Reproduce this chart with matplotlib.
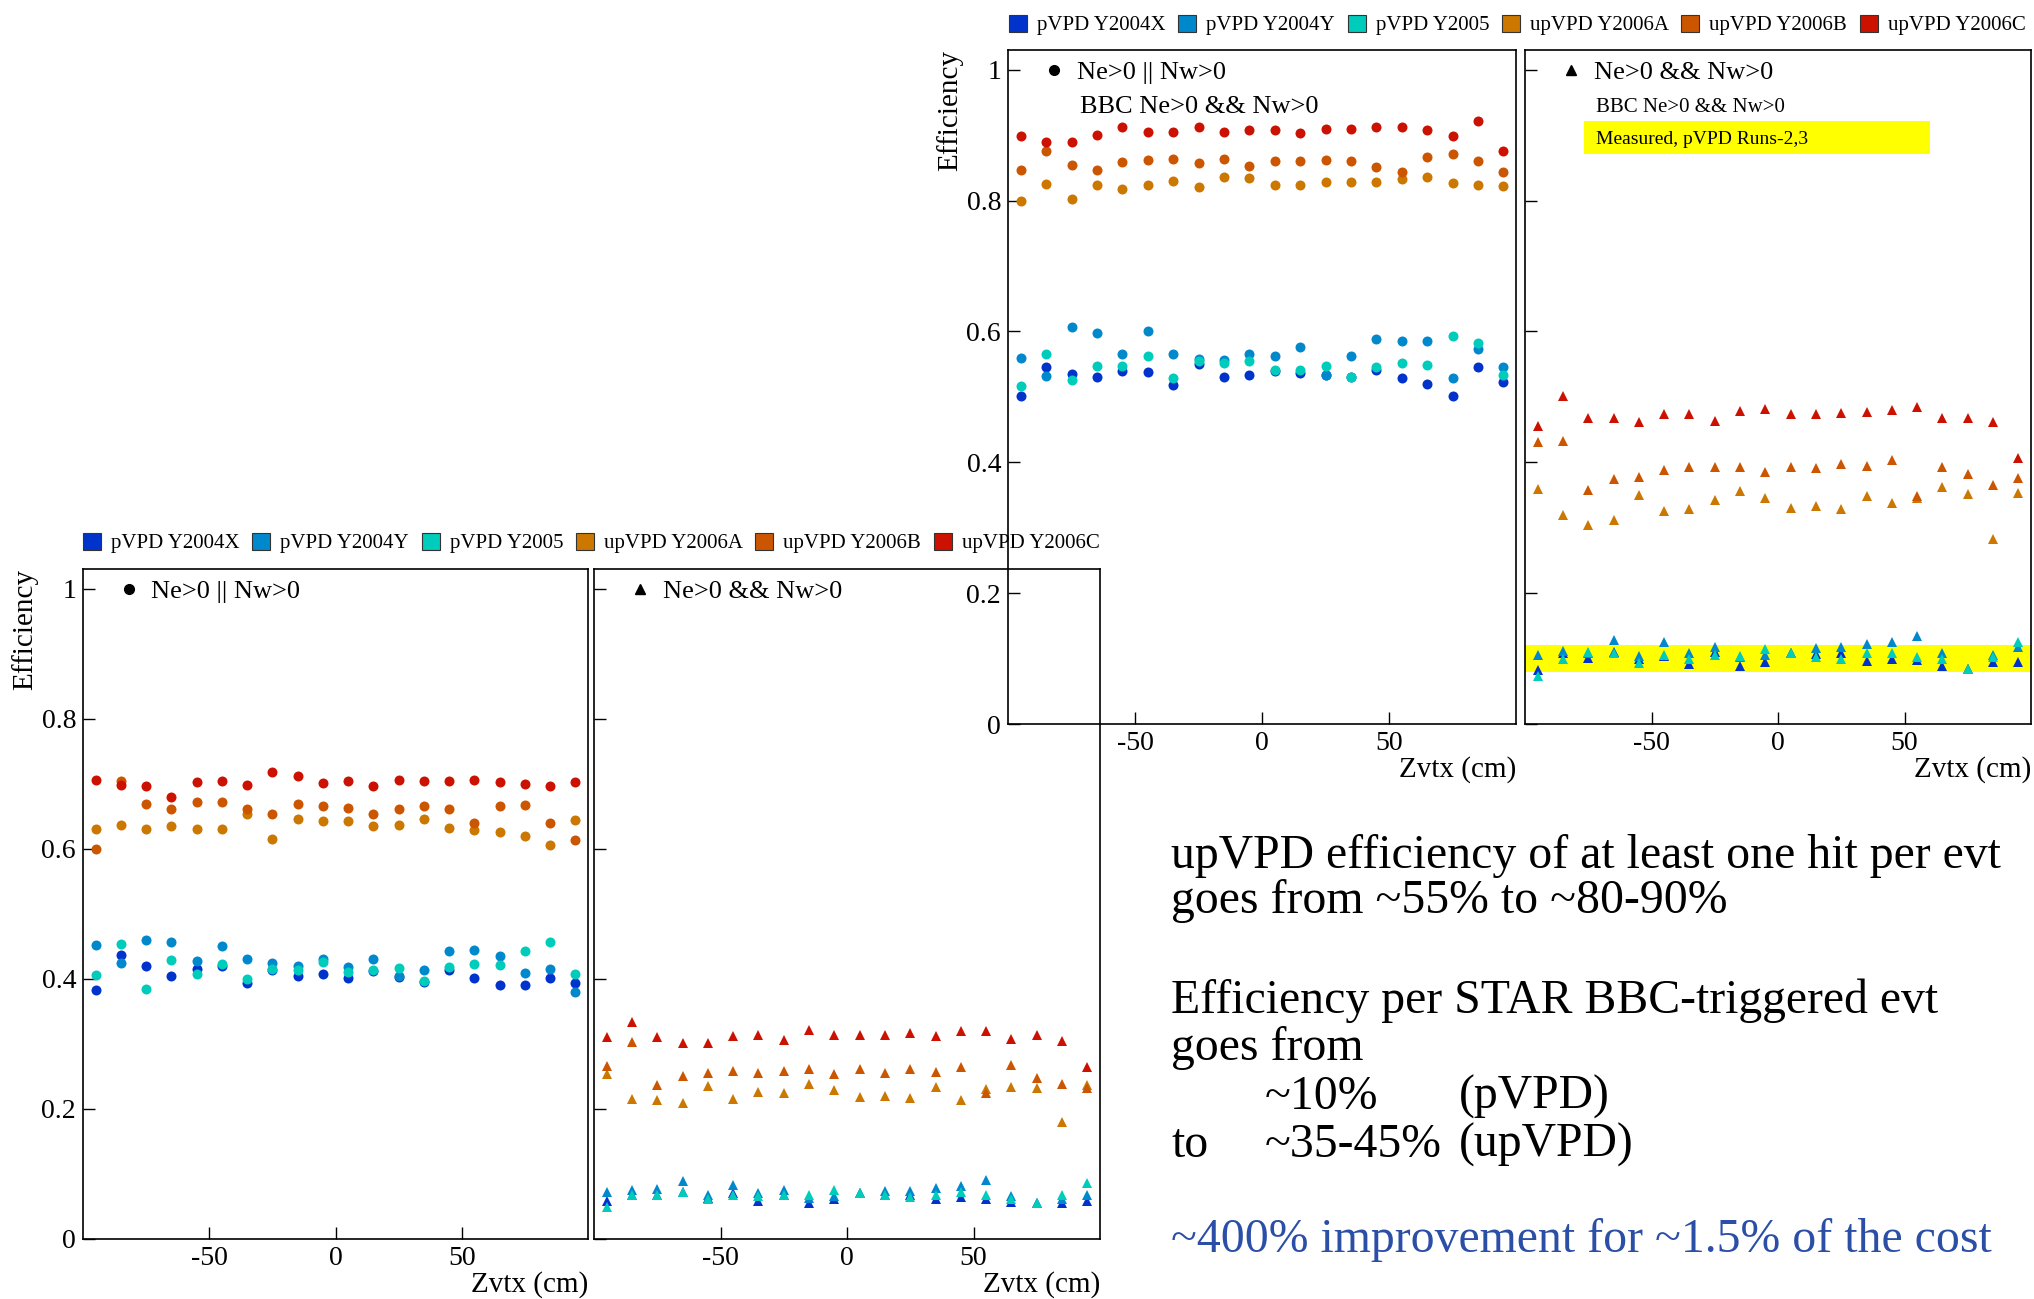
import matplotlib
matplotlib.use('Agg')
import matplotlib.pyplot as plt
from matplotlib.lines import Line2D
from matplotlib.patches import Patch, Rectangle

plt.rcParams['font.family'] = ['Liberation Serif', 'DejaVu Serif']

# z vertex bin centres (cm)
zvtx = [-95, -85, -75, -65, -55, -45, -35, -25, -15, -5,
        5, 15, 25, 35, 45, 55, 65, 75, 85, 95]

series = ['pVPD Y2004X', 'pVPD Y2004Y', 'pVPD Y2005',
          'upVPD Y2006A', 'upVPD Y2006B', 'upVPD Y2006C']
colors = ['#0033cc', '#0088cc', '#00ccbb', '#cc7700', '#cc5500', '#cc1100']

# --- efficiency per BBC triggered event (upper panels) ---
# Ne>0 || Nw>0
bbc_or_X = [0.502, 0.545, 0.535, 0.531, 0.539, 0.538, 0.518, 0.550, 0.531, 0.534,
            0.540, 0.537, 0.533, 0.530, 0.541, 0.529, 0.520, 0.501, 0.545, 0.522]
bbc_or_Y = [0.560, 0.532, 0.607, 0.597, 0.565, 0.600, 0.565, 0.558, 0.557, 0.565,
            0.562, 0.576, 0.534, 0.562, 0.589, 0.586, 0.586, 0.529, 0.573, 0.545]
bbc_or_T = [0.517, 0.566, 0.525, 0.547, 0.547, 0.563, 0.529, 0.555, 0.552, 0.555,
            0.541, 0.541, 0.547, 0.531, 0.545, 0.551, 0.549, 0.593, 0.583, 0.534]
bbc_or_A = [0.799, 0.825, 0.803, 0.824, 0.817, 0.823, 0.830, 0.820, 0.836, 0.834,
            0.824, 0.823, 0.828, 0.829, 0.829, 0.833, 0.836, 0.826, 0.823, 0.822]
bbc_or_B = [0.846, 0.875, 0.855, 0.846, 0.859, 0.862, 0.863, 0.858, 0.863, 0.853,
            0.861, 0.861, 0.862, 0.861, 0.851, 0.844, 0.867, 0.871, 0.861, 0.843]
bbc_or_C = [0.899, 0.890, 0.889, 0.900, 0.912, 0.904, 0.904, 0.912, 0.905, 0.908,
            0.908, 0.903, 0.909, 0.909, 0.913, 0.912, 0.908, 0.899, 0.922, 0.876]
# Ne>0 && Nw>0
bbc_and_X = [0.082, 0.108, 0.101, 0.110, 0.100, 0.104, 0.092, 0.110, 0.089, 0.094,
             0.108, 0.107, 0.109, 0.096, 0.099, 0.098, 0.089, 0.084, 0.094, 0.094]
bbc_and_Y = [0.105, 0.112, 0.108, 0.129, 0.104, 0.126, 0.108, 0.117, 0.103, 0.105,
             0.109, 0.116, 0.117, 0.122, 0.126, 0.135, 0.108, 0.084, 0.105, 0.117]
bbc_and_T = [0.073, 0.099, 0.110, 0.108, 0.093, 0.105, 0.099, 0.106, 0.104, 0.115,
             0.109, 0.103, 0.100, 0.108, 0.108, 0.103, 0.099, 0.084, 0.103, 0.126]
bbc_and_A = [0.359, 0.320, 0.304, 0.312, 0.350, 0.325, 0.328, 0.342, 0.356, 0.345,
             0.330, 0.333, 0.329, 0.349, 0.337, 0.346, 0.362, 0.351, 0.282, 0.353]
bbc_and_B = [0.431, 0.432, 0.358, 0.374, 0.378, 0.388, 0.393, 0.393, 0.392, 0.385,
             0.393, 0.391, 0.397, 0.394, 0.403, 0.348, 0.393, 0.382, 0.366, 0.376]
bbc_and_C = [0.456, 0.502, 0.467, 0.468, 0.461, 0.473, 0.474, 0.463, 0.478, 0.482,
             0.474, 0.473, 0.476, 0.477, 0.480, 0.485, 0.467, 0.468, 0.461, 0.406]

# --- efficiency per event (lower panels) ---
or_X = [0.383, 0.437, 0.420, 0.405, 0.415, 0.420, 0.394, 0.414, 0.405, 0.407,
        0.401, 0.412, 0.403, 0.395, 0.413, 0.402, 0.390, 0.390, 0.401, 0.394]
or_Y = [0.452, 0.425, 0.460, 0.456, 0.427, 0.450, 0.431, 0.424, 0.419, 0.430,
        0.418, 0.431, 0.404, 0.414, 0.442, 0.444, 0.435, 0.409, 0.415, 0.379]
or_T = [0.406, 0.454, 0.385, 0.429, 0.408, 0.422, 0.400, 0.415, 0.414, 0.426,
        0.410, 0.413, 0.417, 0.396, 0.418, 0.422, 0.421, 0.443, 0.456, 0.408]
or_A = [0.631, 0.636, 0.630, 0.635, 0.631, 0.631, 0.653, 0.615, 0.645, 0.643,
        0.642, 0.635, 0.637, 0.646, 0.632, 0.628, 0.626, 0.619, 0.606, 0.644]
or_B = [0.600, 0.704, 0.668, 0.661, 0.672, 0.672, 0.661, 0.653, 0.669, 0.666,
        0.662, 0.654, 0.661, 0.665, 0.661, 0.639, 0.665, 0.667, 0.640, 0.613]
or_C = [0.705, 0.698, 0.696, 0.680, 0.702, 0.704, 0.698, 0.718, 0.712, 0.701,
        0.704, 0.696, 0.705, 0.704, 0.704, 0.706, 0.703, 0.699, 0.697, 0.703]

and_X = [0.058, 0.068, 0.068, 0.073, 0.063, 0.071, 0.058, 0.068, 0.056, 0.061,
         0.071, 0.068, 0.068, 0.061, 0.064, 0.061, 0.057, 0.055, 0.055, 0.059]
and_Y = [0.073, 0.076, 0.077, 0.089, 0.068, 0.083, 0.071, 0.076, 0.063, 0.066,
         0.071, 0.074, 0.074, 0.078, 0.082, 0.091, 0.066, 0.055, 0.061, 0.068]
and_T = [0.049, 0.068, 0.068, 0.073, 0.061, 0.067, 0.066, 0.068, 0.068, 0.076,
         0.071, 0.067, 0.065, 0.068, 0.072, 0.068, 0.061, 0.055, 0.068, 0.086]
and_A = [0.253, 0.215, 0.213, 0.209, 0.235, 0.215, 0.226, 0.224, 0.238, 0.229,
         0.219, 0.220, 0.216, 0.234, 0.214, 0.231, 0.234, 0.232, 0.180, 0.236]
and_B = [0.266, 0.303, 0.236, 0.251, 0.255, 0.259, 0.255, 0.258, 0.262, 0.253,
         0.262, 0.255, 0.262, 0.257, 0.265, 0.224, 0.268, 0.247, 0.238, 0.232]
and_C = [0.311, 0.334, 0.310, 0.302, 0.301, 0.312, 0.313, 0.306, 0.321, 0.314,
         0.314, 0.314, 0.316, 0.312, 0.319, 0.319, 0.307, 0.314, 0.304, 0.265]

yticks = [0, 0.2, 0.4, 0.6, 0.8, 1]
ytick_labels = ['0', '0.2', '0.4', '0.6', '0.8', '1']
xticks = [-50, 0, 50]
xtick_labels = ['-50', '0', '50']

W, H = 2034, 1299
fig = plt.figure(figsize=(W / 100, H / 100), dpi=100)


def make_axes(left, top, width, height=674):
    # pixel box -> figure fraction
    ax = fig.add_axes([left / W, 1 - (top + height) / H, width / W, height / H])
    ax.set_facecolor('none')
    return ax


def draw_panel(ax, ys, marker, label, first):
    ms = 7.2 if marker == 'o' else 7.0
    for y, c in zip(ys, colors):
        ax.plot(zvtx, y, ls='none', marker=marker, ms=ms, color=c, mew=0, zorder=3)
    ax.set_xlim(-100, 100)
    ax.set_ylim(0, 1.03)
    ax.set_xticks(xticks)
    ax.set_xticklabels(xtick_labels)
    ax.set_yticks(yticks)
    if first:
        ax.set_yticklabels(ytick_labels)
        ax.set_ylabel('Efficiency', loc='top', fontsize=21, labelpad=2)
    else:
        ax.set_yticklabels([])
    ax.set_xlabel('Zvtx (cm)', loc='right', fontsize=21, labelpad=0)
    ax.tick_params(direction='in', length=8.5, width=1, labelsize=20, pad=5,
                   top=False, right=False)
    for s in ax.spines.values():
        s.set_linewidth(1.2)
    h = Line2D([], [], ls='none', marker=marker, color='k', ms=7)
    ax.legend([h], [label], loc='upper left', bbox_to_anchor=(0.065, 0.984),
              frameon=False, fontsize=19, handlelength=1.0, handletextpad=0.35,
              borderpad=0, borderaxespad=0)


def top_legend(x, y):
    handles = [Patch(facecolor=c, edgecolor='#333333', lw=0.8) for c in colors]
    fig.legend(handles, series, loc='center left', bbox_to_anchor=(x / W, 1 - y / H),
               ncol=6, frameon=False, fontsize=15, handlelength=0.87,
               handleheight=0.87, handletextpad=0.48, columnspacing=0.6,
               borderpad=0, borderaxespad=0)


# lower set: efficiency per event
ax_ll = make_axes(83, 569, 505, 670)
ax_lm = make_axes(594, 569, 506, 670)
draw_panel(ax_ll, [or_X, or_Y, or_T, or_A, or_B, or_C], 'o', 'Ne>0 || Nw>0', True)
draw_panel(ax_lm, [and_X, and_Y, and_T, and_A, and_B, and_C], '^', 'Ne>0 && Nw>0', False)
top_legend(83, 543)

# upper set: efficiency per BBC triggered event
ax_ul = make_axes(1008, 50, 508)
ax_ur = make_axes(1525, 50, 506)
draw_panel(ax_ul, [bbc_or_X, bbc_or_Y, bbc_or_T, bbc_or_A, bbc_or_B, bbc_or_C],
           'o', 'Ne>0 || Nw>0', True)
draw_panel(ax_ur, [bbc_and_X, bbc_and_Y, bbc_and_T, bbc_and_A, bbc_and_B, bbc_and_C],
           '^', 'Ne>0 && Nw>0', False)
top_legend(1009, 25)

ax_ul.text(0.142, 0.915, 'BBC Ne>0 && Nw>0', transform=ax_ul.transAxes,
           fontsize=19, va='center')
ax_ur.text(0.140, 0.915, 'BBC Ne>0 && Nw>0', transform=ax_ur.transAxes,
           fontsize=15, va='center')
ax_ur.add_patch(Rectangle((0.1166, 0.8457), 0.684, 0.049, transform=ax_ur.transAxes,
                          facecolor='#ffff00', edgecolor='none', zorder=1))
ax_ur.text(0.140, 0.867, 'Measured, pVPD Runs-2,3', transform=ax_ur.transAxes,
           fontsize=14, va='center', zorder=2)
# measured pVPD band
ax_ur.axhspan(0.08, 0.12, color='#ffff00', zorder=1, lw=0)

# summary text
lines = [
    (1171, 868, 'upVPD efficiency of at least one hit per evt', 'k'),
    (1171, 913, 'goes from ~55% to ~80-90%', 'k'),
    (1171, 1013, 'Efficiency per STAR BBC-triggered evt', 'k'),
    (1171, 1060, 'goes from', 'k'),
    (1265, 1109, '~10%', 'k'),
    (1459, 1109, '(pVPD)', 'k'),
    (1171, 1157, 'to', 'k'),
    (1265, 1157, '~35-45%', 'k'),
    (1459, 1157, '(upVPD)', 'k'),
    (1171, 1252, '~400% improvement for ~1.5% of the cost', '#2b4fa6'),
]
for x, y, s, c in lines:
    fig.text(x / W, 1 - y / H, s, fontsize=34.4, color=c, va='baseline', ha='left')

fig.savefig('out.png', dpi=100)
